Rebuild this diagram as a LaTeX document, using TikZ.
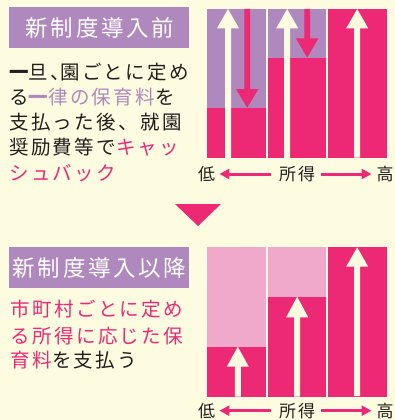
\documentclass[tikz,border=0pt]{standalone}
\usepackage{fontspec}
\newfontfamily\jp[LetterSpace=12]{Noto Sans CJK JP}
\usetikzlibrary{arrows.meta}
\definecolor{bg}{RGB}{254,252,224}
\definecolor{purp}{RGB}{175,137,189}
\definecolor{pinkc}{RGB}{237,41,118}
\definecolor{lpink}{RGB}{240,168,203}
\definecolor{tblack}{RGB}{35,30,30}
\newcommand\myUp[5]{\fill[#5] (#1-3,#4) -- (#1-3,#3) -- (#1-11,#3) -- (#1,#2) -- (#1+11,#3) -- (#1+3,#3) -- (#1+3,#4) -- cycle;}
\newcommand\myDown[5]{\fill[#5] (#1-2.9,#2) -- (#1-2.9,#3) -- (#1-11.3,#3) -- (#1,#4) -- (#1+11.3,#3) -- (#1+2.9,#3) -- (#1+2.9,#2) -- cycle;}
\begin{document}
\begin{tikzpicture}[x=1pt,y=-1pt,
  body/.style={anchor=west,inner sep=0pt,font=\jp\fontsize{19.5}{20}\selectfont,text=tblack},
  lbl/.style={inner sep=0pt,font=\jp\fontsize{22.5}{24}\selectfont,text=white},
  axl/.style={anchor=west,inner sep=0pt,font=\jp\fontsize{17}{18}\selectfont,text=tblack},
  axarr/.style={draw=pinkc,line width=3pt,-{Triangle[length=10pt,width=10pt]}}]
\fill[bg] (0,0) rectangle (395,420);
\path[use as bounding box] (0,0) rectangle (395,420);

% ---------- top section ----------
\fill[purp] (9,7) rectangle (189,48);
\node[lbl] (lab1) at (100,27.5) {新制度導入前};
\node[body] (t1) at (9,71.7) {{\bfseries 一}旦、\kern-0.5em 園ごとに定め};
\node[body] (t2) at (9,96.7) {る\textcolor{purp}{{\bfseries 一}律の保育料}を};
\node[body] (t3) at (9,121.7) {支払った後、就園};
\node[body] (t4) at (9,147) {奨励費等で\textcolor{pinkc}{キャッ}};
\node[body] (t5) at (9,173) {\textcolor{pinkc}{シュバック}};

% top chart
\fill[purp] (207.3,9) rectangle (266,107.7);
\fill[pinkc] (207.3,107.7) rectangle (266,158.3);
\fill[purp] (268.3,9) rectangle (325.7,57.7);
\fill[pinkc] (268.3,57.7) rectangle (325.7,158.3);
\fill[pinkc] (327.7,9) rectangle (387.3,158.3);
\myUp{228}{9}{28.3}{158.3}{bg}
\myDown{247.2}{9}{89}{107.7}{pinkc}
\myUp{287.2}{9}{28.3}{158.3}{bg}
\myDown{307.2}{9}{38.3}{57.7}{pinkc}
\myUp{357.2}{9}{28.3}{157.7}{bg}

\node[axl] (low1) at (198,174) {低};
\node[axl] (inc1) at (279,174) {所得};
\node[axl] (high1) at (376.5,174) {高};
\draw[axarr] ([xshift=-8pt]inc1.west) -- ([xshift=4pt]low1.east);
\draw[axarr] ([xshift=6pt]inc1.east) -- ([xshift=-5pt]high1.west);

% middle triangle
\fill[pinkc] (175,204) -- (221,204) -- (198,226) -- cycle;

% ---------- bottom section ----------
\fill[purp] (9,247.3) rectangle (189,287.7);
\node[lbl] (lab2) at (99.5,267.5) {新制度導入以降};
\node[body,text=pinkc] (b1) at (10.5,309) {市町村ごとに定め};
\node[body,text=pinkc] (b2) at (10.5,336) {る所得に応じた保};
\node[body] (b3) at (10.5,360.5) {\textcolor{pinkc}{育料}を支払う};

% bottom chart
\fill[lpink] (207.3,247.3) rectangle (266,346.7);
\fill[pinkc] (207.3,346.7) rectangle (266,396.7);
\fill[lpink] (268.3,247.3) rectangle (325.7,296.7);
\fill[pinkc] (268.3,296.7) rectangle (325.7,396.7);
\fill[pinkc] (327.7,247.3) rectangle (387.3,396.7);
\myUp{237.8}{346.7}{366.7}{396.7}{bg}
\myUp{297.2}{296.7}{317.3}{396.7}{bg}
\myUp{357.2}{247.3}{266.7}{396}{bg}

\node[axl] (low2) at (198,410.7) {低};
\node[axl] (inc2) at (279,410.7) {所得};
\node[axl] (high2) at (376.5,410.7) {高};
\draw[axarr] ([xshift=-8pt]inc2.west) -- ([xshift=4pt]low2.east);
\draw[axarr] ([xshift=6pt]inc2.east) -- ([xshift=-5pt]high2.west);
\end{tikzpicture}
\end{document}
